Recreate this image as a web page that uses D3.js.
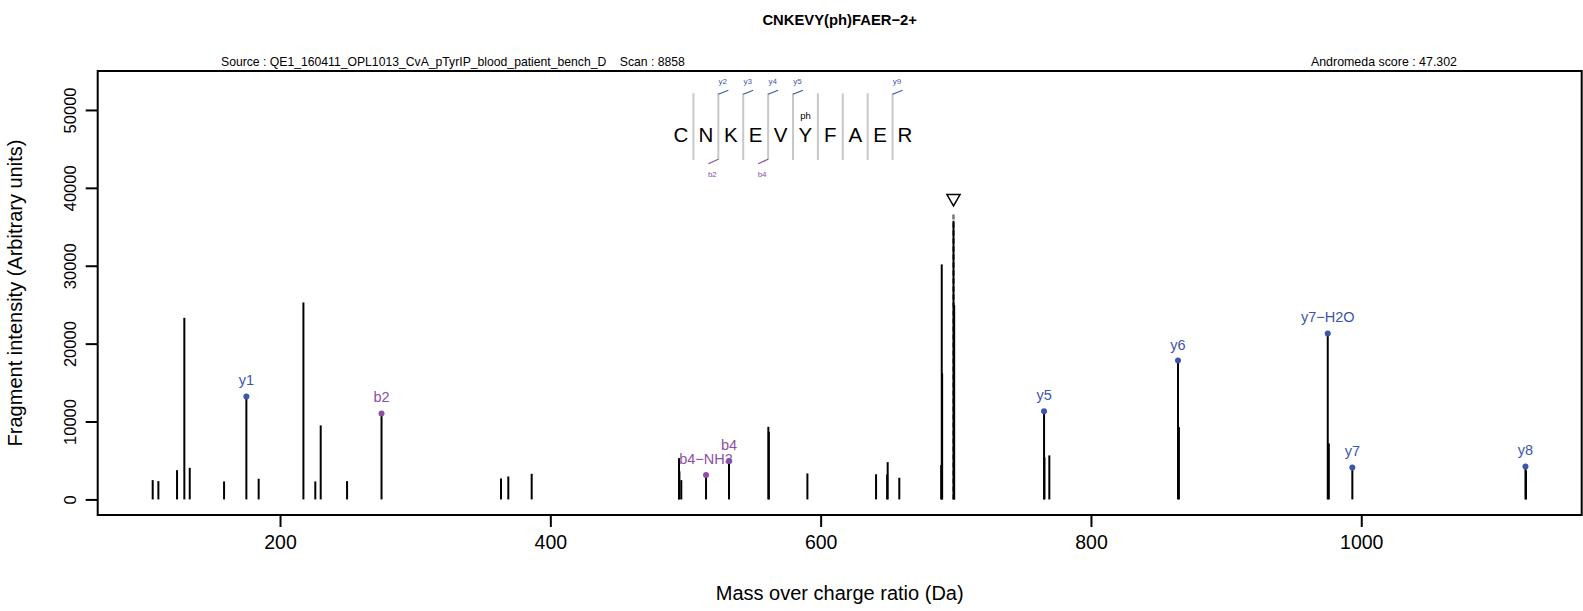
<!DOCTYPE html>
<html>
<head>
<meta charset="utf-8">
<script src="https://cdn.jsdelivr.net/npm/d3@7"></script>
<style>
  body { margin: 0; background: #fff; }
  text { font-family: "Liberation Sans", Arial, sans-serif; }
</style>
</head>
<body>
<div id="spectrum"></div>
<script>
// all fragment peaks (m/z, intensity)
let peakMz = [105.8, 110.0, 123.8, 129.2, 133.2, 158.6, 175.1, 184.2, 217.3, 226.1,
    230.1, 249.6, 275.1, 363.5, 368.9, 386.2, 495.2, 495.5, 496.9, 515.2,
    532.2, 561.3, 561.7, 590.2, 641.0, 649.2, 649.6, 658.2, 689.2, 689.6,
    689.9, 698.3, 698.8, 765.3, 765.6, 769.2, 864.4, 865.1, 975.2, 976.0,
    993.4, 1121.5, 1121.9];
let peakInt = [2480, 2350, 3760, 23310, 4060, 2310, 13220, 2650, 25290, 2310,
    9500, 2350, 11040, 2690, 2950, 3290, 5300, 3600, 2480, 3120,
    4920, 9320, 8680, 3340, 3230, 3200, 4790, 2780, 4400, 30170,
    16170, 35760, 24940, 11330, 5390, 5650, 17830, 9280, 21310, 7190,
    4110, 4240, 3700];

// annotated fragments
let annMz    = [175.1, 275.1, 515.2, 532.2, 765.3, 864.4, 975.2, 993.4, 1121.5];
let annInt   = [13220, 11040, 3120, 4920, 11330, 17830, 21310, 4110, 4240];
let annLabel = ["y1", "b2", "b4\u2212NH3", "b4", "y5", "y6", "y7\u2212H2O", "y7", "y8"];
let annType  = ["y", "b", "b", "b", "y", "y", "y", "y", "y"];

let precursorMz = 698.29;
let precursorTop = 36900;
let precursorMark = 38650;

let xTicks = [200, 400, 600, 800, 1000];
let yTicks = [0, 10000, 20000, 30000, 40000, 50000];

// peptide sequence + fragment coverage
let residues = ["C", "N", "K", "E", "V", "Y", "F", "A", "E", "R"];
let modIndex = 5;
let ySites  = [2, 3, 4, 5, 9];
let yLabels = ["y2", "y3", "y4", "y5", "y9"];
let bSites  = [2, 4];
let bLabels = ["b2", "b4"];

let width  = 1583;
let height = 611;
let box = { left: 97.7, right: 1581.7, top: 71, bottom: 515 };
let blue = "#3d55ad";
let purple = "#8b4fa6";

let svg = d3.select('#spectrum')
    .append('svg')
        .attr('width', width)
        .attr('height', height);

let xScale = d3.scaleLinear()
    .domain([65.1, 1163.1])
    .range([box.left, box.right]);

let yScale = d3.scaleLinear()
    .domain([-2000, 55000])
    .range([box.bottom, box.top]);

// titles
svg.append('text')
    .attr('x', (box.left + box.right) / 2)
    .attr('y', 24.5)
    .attr('text-anchor', 'middle')
    .style('font-size', '14.8px')
    .style('font-weight', 'bold')
    .text('CNKEVY(ph)FAER\u22122+');

svg.append('text')
    .attr('x', 221)
    .attr('y', 66)
    .style('font-size', '12.2px')
    .attr('xml:space', 'preserve')
    .text('Source : QE1_160411_OPL1013_CvA_pTyrIP_blood_patient_bench_D    Scan : 8858');

svg.append('text')
    .attr('x', 1457)
    .attr('y', 66)
    .attr('text-anchor', 'end')
    .style('font-size', '12.4px')
    .text('Andromeda score : 47.302');

// axes
let xAxis = d3.axisBottom(xScale).tickValues(xTicks).tickSize(12).tickPadding(8).tickFormat(d3.format('d'));
let gx = svg.append('g')
    .attr('class', 'x axis')
    .attr('transform', 'translate(0,' + box.bottom + ')')
    .call(xAxis);
gx.select('.domain').remove();
gx.selectAll('line').attr('stroke', '#000').attr('stroke-width', 2);
gx.selectAll('text').style('font-size', '19.5px').attr('fill', '#000');

let yAxis = d3.axisLeft(yScale).tickValues(yTicks).tickSize(12).tickFormat(d3.format('d'));
let gy = svg.append('g')
    .attr('class', 'y axis')
    .attr('transform', 'translate(' + box.left + ',0)')
    .call(yAxis);
gy.select('.domain').remove();
gy.selectAll('line').attr('stroke', '#000').attr('stroke-width', 2);
gy.selectAll('text')
    .style('font-size', '16.5px')
    .attr('fill', '#000')
    .attr('x', null).attr('dy', null)
    .attr('text-anchor', 'middle')
    .attr('transform', 'translate(-27,0) rotate(-90)')
    .attr('dy', '0.35em');

svg.append('text')
    .attr('x', (box.left + box.right) / 2)
    .attr('y', 600)
    .attr('text-anchor', 'middle')
    .style('font-size', '20px')
    .text('Mass over charge ratio (Da)');

svg.append('text')
    .attr('transform', 'translate(22,' + ((box.top + box.bottom) / 2) + ') rotate(-90)')
    .attr('text-anchor', 'middle')
    .style('font-size', '20px')
    .text('Fragment intensity (Arbitrary units)');

// precursor
svg.append('line')
    .attr('x1', xScale(precursorMz)).attr('x2', xScale(precursorMz))
    .attr('y1', yScale(0)).attr('y2', yScale(precursorTop))
    .attr('stroke', '#777')
    .attr('stroke-width', 2.5)
    .attr('stroke-dasharray', '5,3');

// peaks
svg.selectAll('.peak')
    .data(peakMz)
    .enter()
    .append('line')
        .attr('class', 'peak')
        .attr('x1', (d) => xScale(d))
        .attr('x2', (d) => xScale(d))
        .attr('y1', yScale(0))
        .attr('y2', (d, i) => yScale(peakInt[i]))
        .attr('stroke', '#000')
        .attr('stroke-width', 2);

let tri = d3.symbol().type(d3.symbolTriangle).size(75);
svg.append('path')
    .attr('d', tri)
    .attr('transform', 'translate(' + xScale(precursorMz) + ',' + yScale(precursorMark) + ') rotate(180)')
    .attr('fill', 'none')
    .attr('stroke', '#000')
    .attr('stroke-width', 1.5);

// annotated ions
let ann = svg.selectAll('.ann')
    .data(annMz)
    .enter()
    .append('g')
        .attr('class', 'ann');
ann.append('circle')
    .attr('cx', (d) => xScale(d))
    .attr('cy', (d, i) => yScale(annInt[i]))
    .attr('r', 3)
    .attr('fill', (d, i) => annType[i] == 'y' ? blue : purple);
ann.append('text')
    .attr('x', (d) => xScale(d))
    .attr('y', (d, i) => yScale(annInt[i]) - 11)
    .attr('text-anchor', 'middle')
    .style('font-size', '14.5px')
    .attr('fill', (d, i) => annType[i] == 'y' ? blue : purple)
    .text((d, i) => annLabel[i]);

// peptide coverage drawing
let resX = d3.scalePoint()
    .domain(d3.range(residues.length))
    .range([681, 905]);
let step = resX.step();
let pep = svg.append('g').attr('class', 'peptide');

pep.selectAll('.sep')
    .data(d3.range(1, residues.length))
    .enter()
    .append('line')
        .attr('x1', (d) => resX(d) - step / 2)
        .attr('x2', (d) => resX(d) - step / 2)
        .attr('y1', 93.3)
        .attr('y2', 160)
        .attr('stroke', '#c8c8c8')
        .attr('stroke-width', 2);

pep.selectAll('.res')
    .data(residues)
    .enter()
    .append('text')
        .attr('x', (d, i) => resX(i))
        .attr('y', 142)
        .attr('text-anchor', 'middle')
        .style('font-size', '20.5px')
        .text((d) => d);

pep.append('text')
    .attr('x', resX(modIndex))
    .attr('y', 119)
    .attr('text-anchor', 'middle')
    .style('font-size', '9.5px')
    .text('ph');

ySites.forEach(function (s, i) {
    let sx = resX(s) - step / 2;
    pep.append('line')
        .attr('x1', sx).attr('y1', 94.3)
        .attr('x2', sx + 10).attr('y2', 90.3)
        .attr('stroke', blue).attr('stroke-width', 1.2);
    pep.append('text')
        .attr('x', sx + 4.5).attr('y', 83.5)
        .attr('text-anchor', 'middle')
        .style('font-size', '8px')
        .attr('fill', blue)
        .text(yLabels[i]);
});

bSites.forEach(function (s, i) {
    let sx = resX(s) - step / 2;
    pep.append('line')
        .attr('x1', sx).attr('y1', 159.3)
        .attr('x2', sx - 10).attr('y2', 163.7)
        .attr('stroke', purple).attr('stroke-width', 1.2);
    pep.append('text')
        .attr('x', sx - 6).attr('y', 177)
        .attr('text-anchor', 'middle')
        .style('font-size', '8px')
        .attr('fill', purple)
        .text(bLabels[i]);
});

// frame
svg.append('rect')
    .attr('x', box.left).attr('y', box.top)
    .attr('width', box.right - box.left)
    .attr('height', box.bottom - box.top)
    .attr('fill', 'none')
    .attr('stroke', '#000')
    .attr('stroke-width', 2);
</script>
</body>
</html>
